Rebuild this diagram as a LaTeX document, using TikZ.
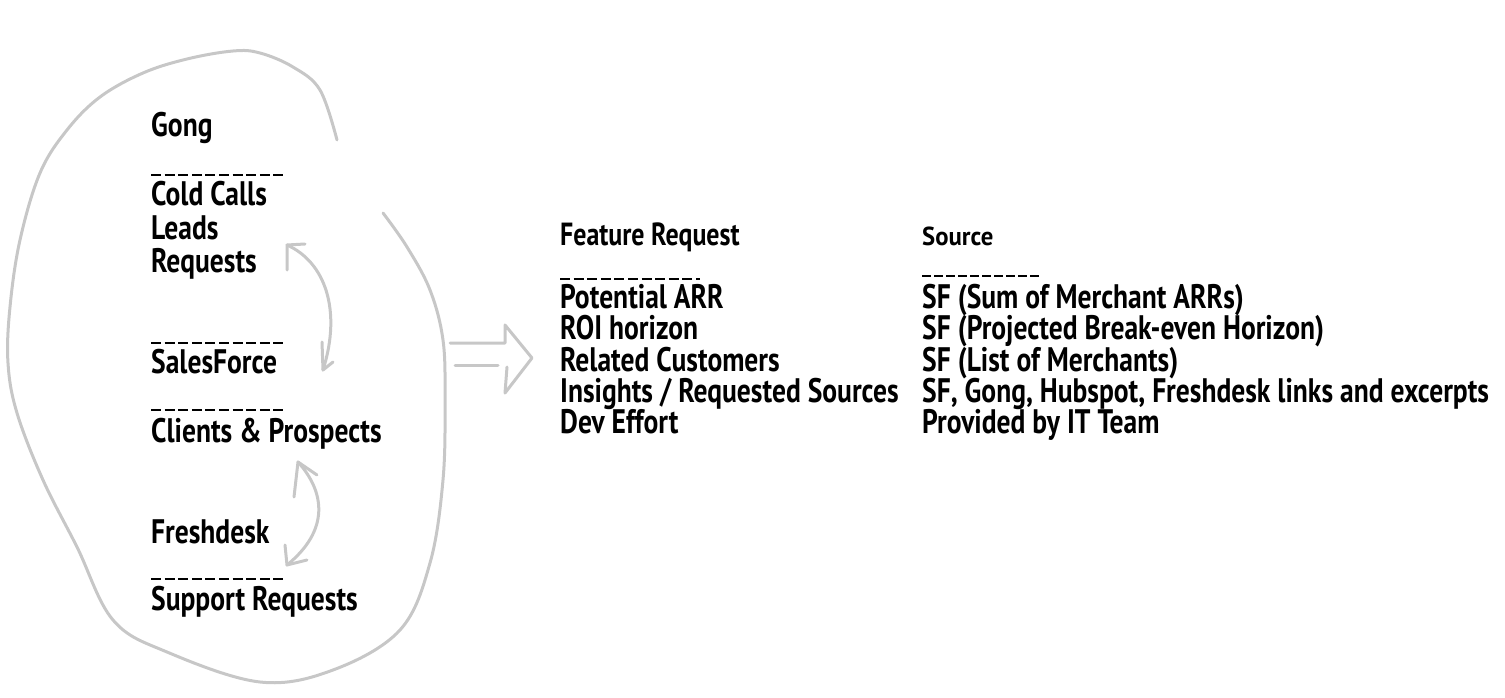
\documentclass[tikz,border=0pt]{standalone}
\usepackage{fontspec}
\newfontfamily\hand{PT Sans}[FakeStretch=0.81]
\newfontfamily\handw{PT Sans}[FakeStretch=0.95]
\begin{document}
\begin{tikzpicture}[x=1pt,y=-1pt,
  sk/.style={draw=black!22, line width=3pt, line cap=round, line join=round},
  lbl/.style={anchor=base west, inner sep=0pt, font=\hand\bfseries\fontsize{34}{40}\selectfont},
  hdr/.style={anchor=base west, inner sep=0pt, font=\hand\bfseries\fontsize{32}{38}\selectfont},
  hdrs/.style={anchor=base west, inner sep=0pt, font=\handw\bfseries\fontsize{26}{30}\selectfont},
  rule/.style={draw=black, line width=2.4pt, dash pattern=on 10pt off 3.6pt}
]
\useasboundingbox (0,0) rectangle (1505,698);
% left column
\node[lbl] (gong) at (151,137) {Gong};
\node[lbl] (cold) at (151,205) {Cold Calls};
\node[lbl] (leads) at (151,239) {Leads};
\node[lbl] (req) at (151,272) {Requests};
\node[lbl] (sf) at (151,373) {SalesForce};
\node[lbl] (clients) at (151,442) {Clients \& Prospects};
\node[lbl] (fresh) at (151,543) {Freshdesk};
\node[lbl] (support) at (151,610) {Support Requests};
\draw[rule] (151,175) -- (287,175);
\draw[rule] (151,343) -- (287,343);
\draw[rule] (151,410) -- (287,410);
\draw[rule] (151,579) -- (287,579);
% middle column
\node[hdr] (feat) at (560,245) {Feature Request};
\draw[rule] (560,279) -- (700,279);
\node[lbl] (arr) at (560,308) {Potential ARR};
\node[lbl] (roi) at (560,339) {ROI horizon};
\node[lbl] (rel) at (560,371) {Related Customers};
\node[lbl] (ins) at (560,402) {Insights / Requested Sources};
\node[lbl] (dev) at (560,433) {Dev Effort};
% right column
\node[hdrs] (src) at (922,245) {Source};
\draw[rule, line width=2pt, dash pattern=on 9pt off 3pt] (922,276) -- (1040,276);
\node[lbl] (s1) at (922,308) {SF (Sum of Merchant ARRs)};
\node[lbl] (s2) at (922,339) {SF (Projected Break-even Horizon)};
\node[lbl] (s3) at (922,371) {SF (List of Merchants)};
\node[lbl] (s4) at (922,402) {SF, Gong, Hubspot, Freshdesk links and excerpts};
\node[lbl] (s5) at (922,433) {Provided by IT Team};
% big loop
\draw[sk] plot[smooth, tension=0.6] coordinates {
 (337,140) (320,90) (293,67) (260,53) (233,51) (187,59) (143,73) (100,97) (67,130)
 (40,173) (20,240) (10,307) (8,363) (17,413) (43,480) (77,547) (113,620) (167,652)
 (260,682) (333,670) (400,630) (430,563) (443,480) (445,400) (443,340) (430,290)
 (407,247) (383,213)};
% arrow 1
\coordinate (a1t) at (287,245);
\coordinate (a1b) at (323,370);
\draw[sk] (287,270) -- (a1t) -- (305,244);
\draw[sk] (a1t) .. controls (325,262) and (342,310) .. (a1b);
\draw[sk] (322,342) -- (a1b) -- (333,362);
% arrow 2
\coordinate (a2t) at (298,462);
\coordinate (a2b) at (287,565);
\draw[sk] (294,497) -- (a2t) -- (317,475);
\draw[sk] (a2t) .. controls (325,492) and (330,530) .. (a2b);
\draw[sk] (285,545) -- (a2b) -- (307,560);
% hollow arrow
\draw[sk] (450,343) -- (505,343) -- (505,325) -- (532,358) -- (505,393) -- (507,367);
\draw[sk] (455,365) -- (498,365);
\end{tikzpicture}
\end{document}
